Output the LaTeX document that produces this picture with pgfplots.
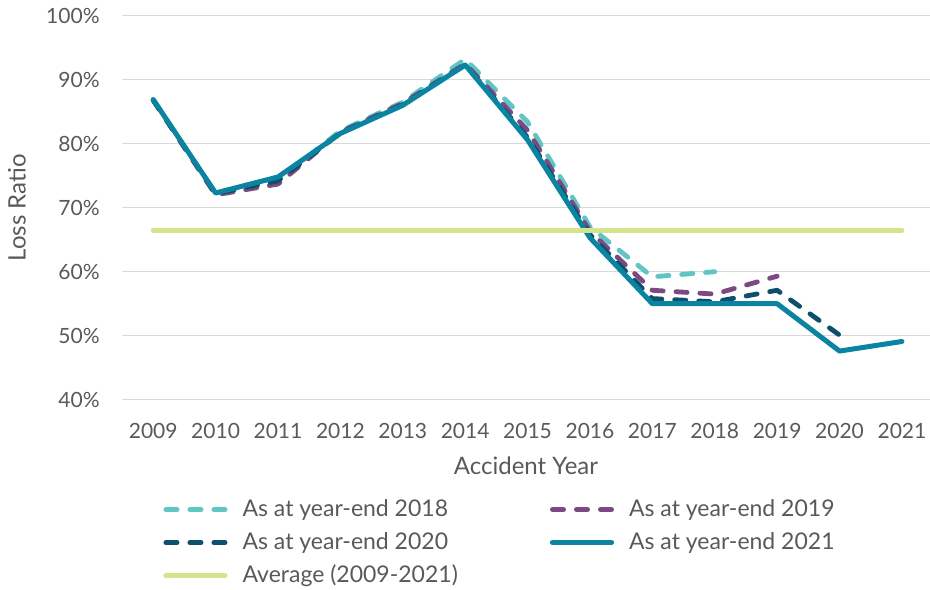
\documentclass[border=0pt]{standalone}
\usepackage{fontspec}
\setmainfont{Lato}
\usepackage{pgfplots}
\pgfplotsset{compat=1.18}
\definecolor{c18}{HTML}{5FC6C3}
\definecolor{c19}{HTML}{7B4A82}
\definecolor{c20}{HTML}{0E4F6B}
\definecolor{c21}{HTML}{0A84A0}
\definecolor{cavg}{HTML}{D7E38A}
\definecolor{txt}{HTML}{595959}
\definecolor{gridc}{HTML}{D9D9D9}
\begin{document}
\begin{tikzpicture}
\begin{axis}[
  scale only axis, width=404pt, height=192pt,
  xmin=-0.5, xmax=12.45, ymin=40, ymax=100,
  axis line style={draw=none},
  tick style={draw=none},
  ymajorgrids, grid style={gridc, line width=0.75pt},
  xtick={0,...,12},
  xticklabels={2009,2010,2011,2012,2013,2014,2015,2016,2017,2018,2019,2020,2021},
  ytick={40,50,60,70,80,90,100},
  yticklabels={40\%,50\%,60\%,70\%,80\%,90\%,100\%},
  ticklabel style={font=\fontsize{10.5}{12}\selectfont, text=txt},
  xticklabel style={anchor=center, yshift=-15.5pt},
  yticklabel style={anchor=east, inner sep=0pt, xshift=-11pt},
  xlabel={Accident Year}, ylabel={Loss Ratio},
  label style={font=\fontsize{12}{14}\selectfont, text=txt},
  xlabel style={at={(axis description cs:0.5,-0.171)}, anchor=center},
  ylabel style={at={(axis description cs:-0.13,0.5)}, anchor=center},
  legend columns=2,
  legend cell align=left,
  legend image code/.code={\draw[#1] (0pt,0pt) -- (29.6pt,0pt);},
  legend style={at={(axis description cs:0.0507,-0.255)}, anchor=north west,
    draw=none, fill=none, inner sep=0pt,
    font=\fontsize{11.5}{13}\selectfont, text=txt,
    nodes={inner sep=0pt, text height=9pt, text depth=2.5pt},
    row sep=5pt,
    /tikz/every odd column/.style={column sep=7.5pt},
    /tikz/every even column/.style={column sep=46pt}},
  every axis plot/.append style={line cap=round, line join=round},
]
\addplot[c18, line width=2.4pt, dash pattern=on 5.6pt off 6.4pt]
  coordinates {(0,86.8) (1,72.2) (2,74.3) (3,82.0) (4,86.5) (5,93.2) (6,83.4) (7,67.0) (8,59.2) (9,60.0)};
\addlegendentry{As at year-end 2018}
\addplot[c19, line width=2.4pt, dash pattern=on 5.6pt off 6.4pt]
  coordinates {(0,86.8) (1,72.0) (2,73.7) (3,81.8) (4,86.3) (5,92.5) (6,82.1) (7,66.3) (8,57.1) (9,56.5) (10,59.3)};
\addlegendentry{As at year-end 2019}
\addplot[c20, line width=2.4pt, dash pattern=on 5.6pt off 6.4pt]
  coordinates {(0,86.8) (1,72.2) (2,74.2) (3,81.7) (4,86.1) (5,92.3) (6,81.0) (7,65.8) (8,55.8) (9,55.3) (10,57.1) (11,50.1)};
\addlegendentry{As at year-end 2020}
\addplot[c21, line width=2.5pt]
  coordinates {(0,86.9) (1,72.3) (2,74.8) (3,81.6) (4,86.0) (5,92.3) (6,80.6) (7,65.3) (8,55.0) (9,55.0) (10,55.0) (11,47.6) (12,49.1)};
\addlegendentry{As at year-end 2021}
\addplot[cavg, line width=2.5pt]
  coordinates {(0,66.5) (1,66.5) (2,66.5) (3,66.5) (4,66.5) (5,66.5) (6,66.5) (7,66.5) (8,66.5) (9,66.5) (10,66.5) (11,66.5) (12,66.5)};
\addlegendentry{Average (2009-2021)}
\end{axis}
\pgfresetboundingbox
\path[use as bounding box] ([xshift=-61pt,yshift=-94.65pt]current axis.south west) rectangle ([yshift=7.85pt]current axis.north east);
\end{tikzpicture}
\end{document}
